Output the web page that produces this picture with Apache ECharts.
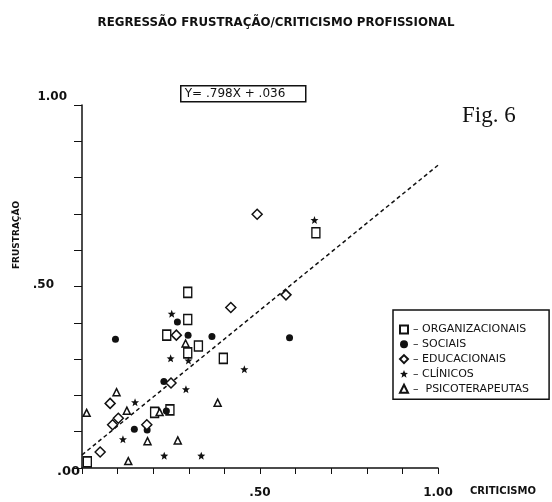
<!DOCTYPE html>
<html lang="pt">
<head>
    <meta charset="utf-8">
    <script src="https://cdn.jsdelivr.net/npm/echarts@6/dist/echarts.min.js"></script>
    <title>Regressão frustração/criticismo profissional</title>
</head>
<body style="margin:0;background:#fff;">
<div id="main" style="width: 552px;height:502px;"></div>
<script type="text/javascript">
    // dados: [criticismo, frustração]
    var organizacionais = [
        [0.297, 0.484], [0.297, 0.409], [0.238, 0.366], [0.327, 0.336], [0.297, 0.317],
        [0.397, 0.302], [0.204, 0.153], [0.247, 0.160], [0.015, 0.017], [0.657, 0.648]
    ];
    var sociais = [
        [0.268, 0.402], [0.298, 0.366], [0.365, 0.362], [0.094, 0.355], [0.230, 0.238],
        [0.237, 0.157], [0.147, 0.107], [0.183, 0.105], [0.583, 0.359]
    ];
    var educacionais = [
        [0.418, 0.442], [0.265, 0.366], [0.250, 0.234], [0.079, 0.178], [0.102, 0.137],
        [0.086, 0.119], [0.182, 0.119], [0.051, 0.044], [0.492, 0.699], [0.573, 0.477]
    ];
    var clinicos = [
        [0.252, 0.425], [0.249, 0.302], [0.299, 0.296], [0.292, 0.217], [0.149, 0.181],
        [0.115, 0.079], [0.231, 0.034], [0.335, 0.034], [0.653, 0.683], [0.456, 0.272]
    ];
    var psicoterapeutas = [
        [0.291, 0.343], [0.097, 0.209], [0.381, 0.180], [0.013, 0.152], [0.126, 0.158],
        [0.218, 0.154], [0.184, 0.074], [0.269, 0.076], [0.130, 0.019]
    ];
    // recta de regressão Y = .798X + .036 (extremos)
    var regressao = [[0, 0.036], [1, 0.834]];

    var categorias = ['ORGANIZACIONAIS', 'SOCIAIS', 'EDUCACIONAIS', 'CLÍNICOS', ' PSICOTERAPEUTAS'];

    var fonte = 'DejaVu Sans';
    var starPath = 'path://M0,-10 L2.6,-3.4 9.5,-3.1 4.1,1.3 5.9,8.1 0,4.2 -5.9,8.1 -4.1,1.3 -9.5,-3.1 -2.6,-3.4 Z';

    function hollow(symbol, size) {
        return {
            symbol: symbol,
            symbolSize: size,
            itemStyle: {color: '#fff', borderColor: '#111', borderWidth: 1.5, opacity: 1}
        };
    }

    var myChart = echarts.init(document.getElementById('main'));

    var option = {
        backgroundColor: '#fff',
        animation: false,
        title: {
            text: 'REGRESSÃO FRUSTRAÇÃO/CRITICISMO PROFISSIONAL',
            left: 'center',
            top: 12,
            textStyle: {fontFamily: fonte, fontSize: 11.8, fontWeight: 'bold', color: '#111'}
        },
        grid: {left: 82, top: 105, width: 356, height: 363},
        xAxis: {
            type: 'value',
            min: 0,
            max: 1,
            interval: 0.1,
            name: 'CRITICISMO',
            nameLocation: 'end',
            nameGap: 32,
            nameTextStyle: {
                fontFamily: fonte, fontSize: 10, fontWeight: 'bold', color: '#111',
                verticalAlign: 'top', padding: [18, 0, 0, 0]
            },
            axisLine: {lineStyle: {color: '#111', width: 1.5}},
            axisTick: {length: 6, lineStyle: {color: '#111'}},
            splitLine: {show: false},
            axisLabel: {
                margin: 19,
                fontFamily: fonte, fontSize: 12, fontWeight: 'bold', color: '#111',
                formatter: function (v) {
                    if (Math.abs(v - 0.5) < 1e-6) return '.50';
                    if (Math.abs(v - 1) < 1e-6) return '1.00';
                    return '';
                }
            }
        },
        yAxis: {
            type: 'value',
            min: 0,
            max: 1,
            interval: 0.1,
            axisLine: {lineStyle: {color: '#111', width: 1.5}},
            axisTick: {length: 8, lineStyle: {color: '#111'}},
            splitLine: {show: false},
            axisLabel: {
                margin: 2,
                fontFamily: fonte, fontSize: 12, fontWeight: 'bold', color: '#111',
                formatter: function (v) {
                    if (Math.abs(v) < 1e-6) return '{zero|.00}';
                    if (Math.abs(v - 0.5) < 1e-6) return '{half|.50}';
                    if (Math.abs(v - 1) < 1e-6) return '{one|1.00}';
                    return '';
                },
                rich: {
                    zero: {fontFamily: fonte, fontSize: 13, fontWeight: 'bold', padding: [8, 0, 0, 0]},
                    half: {fontFamily: fonte, fontSize: 12, fontWeight: 'bold', padding: [0, 26, 4, 0]},
                    one: {fontFamily: fonte, fontSize: 12, fontWeight: 'bold', padding: [0, 13, 16, 0]}
                }
            }
        },
        legend: {
            orient: 'vertical',
            left: 393,
            top: 310,
            padding: [14, 20, 5, 6],
            itemWidth: 8,
            itemHeight: 8,
            itemGap: 3.8,
            borderColor: '#111',
            borderWidth: 1.5,
            data: categorias,
            textStyle: {fontFamily: fonte, fontSize: 11, color: '#111'},
            formatter: function (name) {
                return '– ' + name;
            }
        },
        graphic: [
            {
                type: 'group',
                left: 180,
                top: 85,
                children: [
                    {
                        type: 'rect',
                        shape: {x: 0, y: 0, width: 125, height: 16},
                        style: {fill: '#fff', stroke: '#111', lineWidth: 1.5}
                    },
                    {
                        type: 'text',
                        x: 4,
                        y: 8,
                        style: {
                            text: 'Y= .798X + .036',
                            fontFamily: fonte, fontSize: 12, fill: '#111',
                            align: 'left', verticalAlign: 'middle'
                        }
                    }
                ]
            },
            {
                type: 'text',
                left: 462,
                top: 104,
                style: {text: 'Fig. 6', fontFamily: 'Liberation Serif', fontSize: 23, fill: '#111'}
            },
            {
                type: 'text',
                x: 17,
                y: 235,
                rotation: Math.PI / 2,
                style: {
                    text: 'FRUSTRAÇÃO',
                    fontFamily: fonte, fontSize: 9, fontWeight: 'bold', fill: '#111',
                    align: 'center', verticalAlign: 'middle'
                }
            }
        ],
        series: [
            Object.assign({type: 'scatter', name: categorias[0], data: organizacionais}, hollow('rect', [8, 10])),
            {
                type: 'scatter', name: categorias[1], data: sociais,
                symbol: 'circle', symbolSize: 7,
                itemStyle: {color: '#111', opacity: 1}
            },
            Object.assign({type: 'scatter', name: categorias[2], data: educacionais}, hollow('diamond', [10, 10])),
            {
                type: 'scatter', name: categorias[3], data: clinicos,
                symbol: starPath, symbolSize: 8,
                itemStyle: {color: '#111', opacity: 1}
            },
            Object.assign({type: 'scatter', name: categorias[4], data: psicoterapeutas}, hollow('triangle', [7, 7])),
            {
                type: 'line',
                data: regressao,
                symbol: 'none',
                silent: true,
                z: 1,
                lineStyle: {color: '#111', width: 1.5, type: [4, 3]}
            }
        ]
    };

    myChart.setOption(option);
</script>
</body>
</html>
